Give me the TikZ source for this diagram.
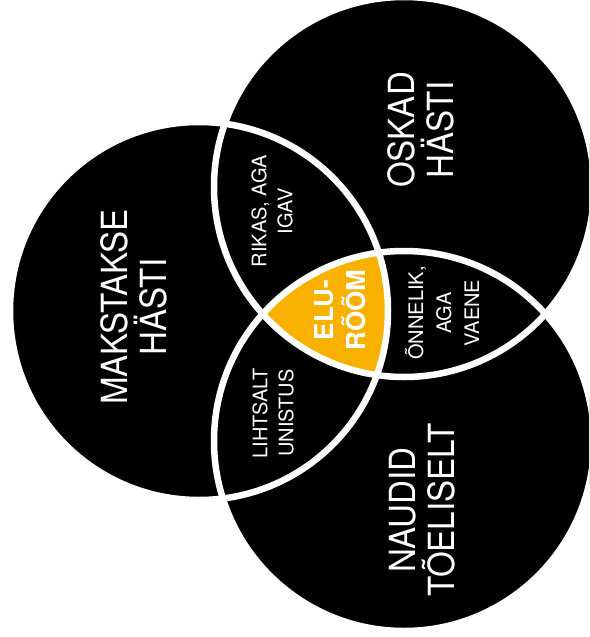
\documentclass[tikz,border=0pt]{standalone}
\usepackage{fontspec}
\setmainfont{TeX Gyre Heros}
\newfontfamily\bigfont[FakeStretch=0.92]{TeX Gyre Heros}
\definecolor{joy}{RGB}{248,177,0}
\begin{document}
\begin{tikzpicture}[x=1pt,y=-1pt,
  bigtext/.style={text=white, font=\bigfont\fontsize{36}{39}\selectfont, align=center, rotate=90, inner sep=0pt},
  smalltext/.style={text=white, font=\fontsize{20}{26}\selectfont, align=center, rotate=90, inner sep=0pt},
  joytext/.style={text=white, font=\bfseries\fontsize{26}{32}\selectfont, align=center, rotate=90, inner sep=0pt},
  ring/.style={draw=white, line width=6.5pt}]
\useasboundingbox (0,0) rectangle (589,637);
\clip (0,0) rectangle (589,637);
\coordinate (cL) at (199,311);
\coordinate (cT) at (404,187);
\coordinate (cB) at (404,441);
\fill[black] (cL) circle[radius=189pt] (cT) circle[radius=190pt] (cB) circle[radius=190pt];
\begin{scope}
  \clip (cL) circle[radius=189pt];
  \clip (cT) circle[radius=190pt];
  \fill[joy] (cB) circle[radius=190pt];
\end{scope}
\draw[ring] (cL) circle[radius=189pt];
\draw[ring] (cT) circle[radius=190pt];
\draw[ring] (cB) circle[radius=190pt];
\node[bigtext] (paid) at (133.5,307) {MAKSTAKSE\\HÄSTI};
\node[bigtext] (skill) at (420.5,130) {OSKAD\\HÄSTI};
\node[bigtext] (love) at (422,510) {NAUDID\\TÕELISELT};
\node[smalltext] (rich) at (272,211) {RIKAS, AGA\\IGAV};
\node[smalltext, font=\fontsize{20}{28}\selectfont] (happy) at (442,313) {ÕNNELIK,\\AGA\\VAENE};
\node[smalltext] (dream) at (273,413) {LIHTSALT\\UNISTUS};
\node[joytext] (joy) at (340,310) {ELU-\\RÕÕM};
\end{tikzpicture}
\end{document}
